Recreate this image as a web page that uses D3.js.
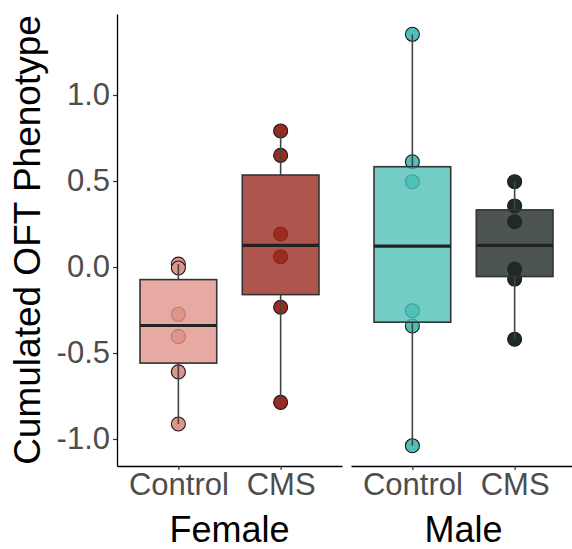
<!DOCTYPE html>
<html lang="en">
<head>
<meta charset="UTF-8">
<script src="https://d3js.org/d3.v7.min.js"></script>
<style>
  body { margin: 0; background: #fff; }
  text { font-family: "Liberation Sans", Arial, sans-serif; }
</style>
</head>
<body>
<svg width="572" height="549"></svg>
<script>
// data
const sexes = ['Female', 'Male'];
const groups = ['Control', 'CMS'];
const femaleControl = [0.017, -0.006, -0.275, -0.405, -0.61, -0.913];
const femaleCMS = [0.791, 0.649, 0.192, 0.06, -0.234, -0.787];
const maleControl = [1.353, 0.612, 0.496, -0.254, -0.343, -1.039];
const maleCMS = [0.496, 0.355, 0.263, -0.012, -0.07, -0.42];
const yTicks = [-1, -0.5, 0, 0.5, 1];
const colors = {
  'Female-Control': '#e0958b',
  'Female-CMS': '#9b2a22',
  'Male-Control': '#4fc0b8',
  'Male-CMS': '#1f2b26'
};

const values = {
  'Female-Control': femaleControl,
  'Female-CMS': femaleCMS,
  'Male-Control': maleControl,
  'Male-CMS': maleCMS
};

const svg = d3.select('svg');
const plotTop = 14, plotBottom = 466;
const panelW = 225, gap = 9, plotLeft = 117;

const y = d3.scaleLinear().domain([-1.157, 1.471]).range([plotBottom, plotTop]);

// y axis
const yAxis = svg.append('g')
  .attr('transform', `translate(${plotLeft},0)`)
  .call(d3.axisLeft(y).tickValues(yTicks).tickSize(4).tickSizeOuter(0)
    .tickFormat(d => d3.format('.1f')(d).replace('\u2212', '-')));
yAxis.select('.domain').attr('stroke', '#000').attr('stroke-width', 1.3);
yAxis.selectAll('.tick line').attr('stroke', '#333').attr('stroke-width', 1.2);
yAxis.selectAll('.tick text').attr('fill', '#4d4d4d').attr('font-size', 31)
  .attr('font-family', '"Liberation Sans", Arial, sans-serif');

svg.append('text')
  .attr('transform', `translate(40,${(plotTop + plotBottom) / 2}) rotate(-90)`)
  .attr('text-anchor', 'middle')
  .attr('font-size', 37)
  .attr('fill', '#000')
  .text('Cumulated OFT Phenotype');

sexes.forEach((sex, i) => {
  const x0 = plotLeft + i * (panelW + gap);
  const x = d3.scalePoint().domain(groups).range([x0, x0 + panelW]).padding(0.6);
  const bw = x.step() * 0.75;

  const g = svg.append('g');

  groups.forEach(grp => {
    const key = sex + '-' + grp;
    const v = values[key].slice().sort(d3.ascending);
    const q1 = d3.quantile(v, 0.25), med = d3.quantile(v, 0.5), q3 = d3.quantile(v, 0.75);
    const iqr = q3 - q1;
    const lo = d3.min(v.filter(d => d >= q1 - 1.5 * iqr));
    const hi = d3.max(v.filter(d => d <= q3 + 1.5 * iqr));
    const cx = x(grp);
    const col = colors[key];

    // points first, box on top
    g.selectAll(null)
      .data(values[key])
      .enter()
      .append('circle')
      .attr('cx', cx)
      .attr('cy', d => y(d))
      .attr('r', 7)
      .attr('fill', col)
      .attr('stroke', '#1a1a1a')
      .attr('stroke-width', 1.1);

    g.append('line')
      .attr('x1', cx).attr('x2', cx)
      .attr('y1', y(q3)).attr('y2', y(hi))
      .attr('stroke', '#444').attr('stroke-width', 1.6);
    g.append('line')
      .attr('x1', cx).attr('x2', cx)
      .attr('y1', y(q1)).attr('y2', y(lo))
      .attr('stroke', '#444').attr('stroke-width', 1.6);

    g.append('rect')
      .attr('x', cx - bw / 2)
      .attr('y', y(q3))
      .attr('width', bw)
      .attr('height', y(q1) - y(q3))
      .attr('fill', col)
      .attr('fill-opacity', 0.8)
      .attr('stroke', '#333')
      .attr('stroke-width', 1.6);

    g.append('line')
      .attr('x1', cx - bw / 2).attr('x2', cx + bw / 2)
      .attr('y1', y(med)).attr('y2', y(med))
      .attr('stroke', '#222').attr('stroke-width', 3.2);
  });

  const xAxis = svg.append('g')
    .attr('transform', `translate(0,${plotBottom})`)
    .call(d3.axisBottom(x).tickSize(4).tickSizeOuter(0));
  xAxis.select('.domain').attr('stroke', '#000').attr('stroke-width', 1.3);
  xAxis.selectAll('.tick line').attr('stroke', '#333').attr('stroke-width', 1.2);
  xAxis.selectAll('.tick text').attr('fill', '#4d4d4d').attr('font-size', 31)
    .attr('font-family', '"Liberation Sans", Arial, sans-serif');

  svg.append('text')
    .attr('x', x0 + panelW / 2)
    .attr('y', 542)
    .attr('text-anchor', 'middle')
    .attr('font-size', 36)
    .attr('fill', '#000')
    .text(sex);
});
</script>
</body>
</html>
